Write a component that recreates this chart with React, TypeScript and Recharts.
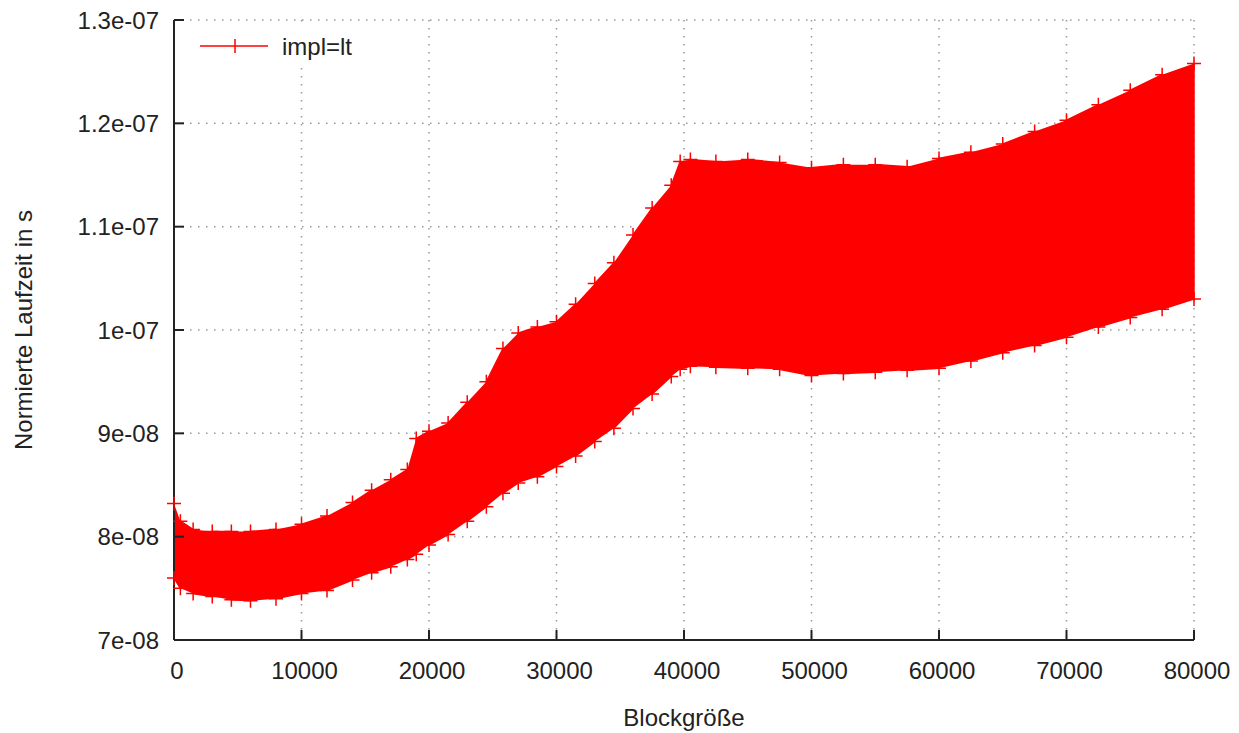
import React from 'react';
import {
  ComposedChart,
  Area,
  Line,
  XAxis,
  YAxis,
  CartesianGrid,
} from 'recharts';

const blockSizes = [
  0, 500, 1500, 3000, 4500, 6000, 8000, 10000, 12000, 14000, 15500, 17000,
  18300, 19000, 20000, 21500, 23000, 24500, 25800, 27000, 28500, 30000, 31500,
  33000, 34500, 36000, 37500, 39000, 39700, 40500, 42500, 45000, 47500, 50000,
  52500, 55000, 57500, 60000, 62500, 65000, 67500, 70000, 72500, 75000, 77500,
  80000,
];

// Upper / lower edge of the measured runtime band, in units of 1e-8 s
const upperTime = [
  8.32, 8.15, 8.07, 8.05, 8.05, 8.05, 8.07, 8.12, 8.2, 8.33, 8.45, 8.55,
  8.65, 8.95, 9.02, 9.1, 9.3, 9.5, 9.82, 9.97, 10.03, 10.08, 10.25,
  10.45, 10.65, 10.92, 11.18, 11.4, 11.63, 11.65, 11.63, 11.65, 11.62, 11.57,
  11.6, 11.6, 11.58, 11.66, 11.72, 11.8, 11.92, 12.03, 12.18, 12.32, 12.47,
  12.58,
];
const lowerTime = [
  7.6, 7.5, 7.45, 7.42, 7.39, 7.38, 7.4, 7.45, 7.48, 7.58, 7.65, 7.71,
  7.78, 7.83, 7.92, 8.02, 8.15, 8.29, 8.42, 8.52, 8.58, 8.68, 8.78,
  8.92, 9.05, 9.24, 9.38, 9.55, 9.62, 9.65, 9.64, 9.63, 9.62, 9.56,
  9.58, 9.59, 9.61, 9.63, 9.7, 9.78, 9.85, 9.93, 10.03, 10.12, 10.2,
  10.3,
];

const xTicks = [0, 10000, 20000, 30000, 40000, 50000, 60000, 70000, 80000];
const yTicks = [7, 8, 9, 10, 11, 12, 13];
const yTickLabels = ['7e-08', '8e-08', '9e-08', '1e-07', '1.1e-07', '1.2e-07', '1.3e-07'];

const FONT = '"Liberation Sans", Arial, sans-serif';
const RED = '#ff0000';
const INK = '#222';

const bandData = blockSizes.map((x, i) => ({ x, band: [lowerTime[i], upperTime[i]] }));

// the raw series jumps between the two edges, so walk up and down the band
const zigzag: { x: number; y: number }[] = [];
blockSizes.forEach((x, i) => {
  if (i % 2 === 0) {
    zigzag.push({ x, y: upperTime[i] }, { x, y: lowerTime[i] });
  } else {
    zigzag.push({ x, y: lowerTime[i] }, { x, y: upperTime[i] });
  }
});

const PlusDot = (props: any) => {
  const { cx, cy, index } = props;
  if (cx == null || cy == null) return null;
  return (
    <path
      key={index}
      d={`M${cx - 7},${cy}H${cx + 7}M${cx},${cy - 7}V${cy + 7}`}
      stroke={RED}
      strokeWidth={1.5}
      fill="none"
    />
  );
};

const tickStyle = { fill: INK, fontSize: 24, fontFamily: FONT };
const axisLine = { stroke: INK, strokeWidth: 2 };
const tickLine = { stroke: INK, strokeWidth: 2 };
const blank = () => '';

export default function App() {
  return (
    <div style={{ position: 'absolute', left: 0, top: 0, width: 1239, height: 733, background: '#fff' }}>
      <ComposedChart width={1239} height={733} margin={{ top: 20, right: 45, bottom: 0, left: 0 }}>
        <CartesianGrid stroke="#999" strokeDasharray="1.5 6.5" strokeWidth={1.5} />
        <XAxis
          dataKey="x"
          type="number"
          domain={[0, 80000]}
          ticks={xTicks}
          height={93}
          tick={{ ...tickStyle, dx: 3 }}
          tickSize={-10}
          tickMargin={32}
          axisLine={axisLine}
          tickLine={tickLine}
          label={{
            value: 'Blockgröße',
            position: 'insideBottom',
            offset: 7,
            fill: INK,
            fontSize: 24,
            fontFamily: FONT,
          }}
        />
        <XAxis
          xAxisId="top"
          orientation="top"
          type="number"
          domain={[0, 80000]}
          ticks={xTicks}
          height={0}
          tick={{ fontSize: 0 }}
          tickFormatter={blank}
          tickSize={-10}
          axisLine={axisLine}
          tickLine={tickLine}
        />
        <YAxis
          type="number"
          domain={[7, 13]}
          ticks={yTicks}
          width={174}
          tick={tickStyle}
          tickFormatter={(v: number) => yTickLabels[yTicks.indexOf(v)] ?? ''}
          tickSize={-10}
          tickMargin={25}
          axisLine={axisLine}
          tickLine={tickLine}
          label={{
            content: ({ viewBox }: any) => {
              const cx = viewBox.x + 23;
              const cy = viewBox.y + viewBox.height / 2;
              return (
                <text
                  x={cx}
                  y={cy}
                  transform={`rotate(-90 ${cx} ${cy})`}
                  textAnchor="middle"
                  dominantBaseline="central"
                  fill={INK}
                  fontSize={24}
                  fontFamily={FONT}
                >
                  Normierte Laufzeit in s
                </text>
              );
            },
          }}
        />
        <YAxis
          yAxisId="right"
          orientation="right"
          type="number"
          domain={[7, 13]}
          ticks={yTicks}
          width={0}
          tick={{ fontSize: 0 }}
          tickFormatter={blank}
          tickSize={-10}
          axisLine={axisLine}
          tickLine={tickLine}
        />
        <Area
          data={bandData}
          dataKey="band"
          type="linear"
          fill={RED}
          fillOpacity={1}
          stroke="none"
          dot={false}
          activeDot={false}
          isAnimationActive={false}
        />
        <Line
          data={zigzag}
          dataKey="y"
          type="linear"
          stroke={RED}
          strokeWidth={1.5}
          dot={PlusDot}
          activeDot={false}
          isAnimationActive={false}
        />
      </ComposedChart>
      <div
        style={{
          position: 'absolute',
          left: 190,
          top: 24,
          width: 180,
          height: 40,
          background: '#fff',
        }}
      >
        <svg width={180} height={40}>
          <line x1={10} y1={22} x2={78} y2={22} stroke={RED} strokeWidth={1.5} />
          <line x1={45} y1={15} x2={45} y2={29} stroke={RED} strokeWidth={1.5} />
          <text x={92} y={31} fill={INK} fontSize={24} fontFamily={FONT}>
            impl=lt
          </text>
        </svg>
      </div>
    </div>
  );
}
